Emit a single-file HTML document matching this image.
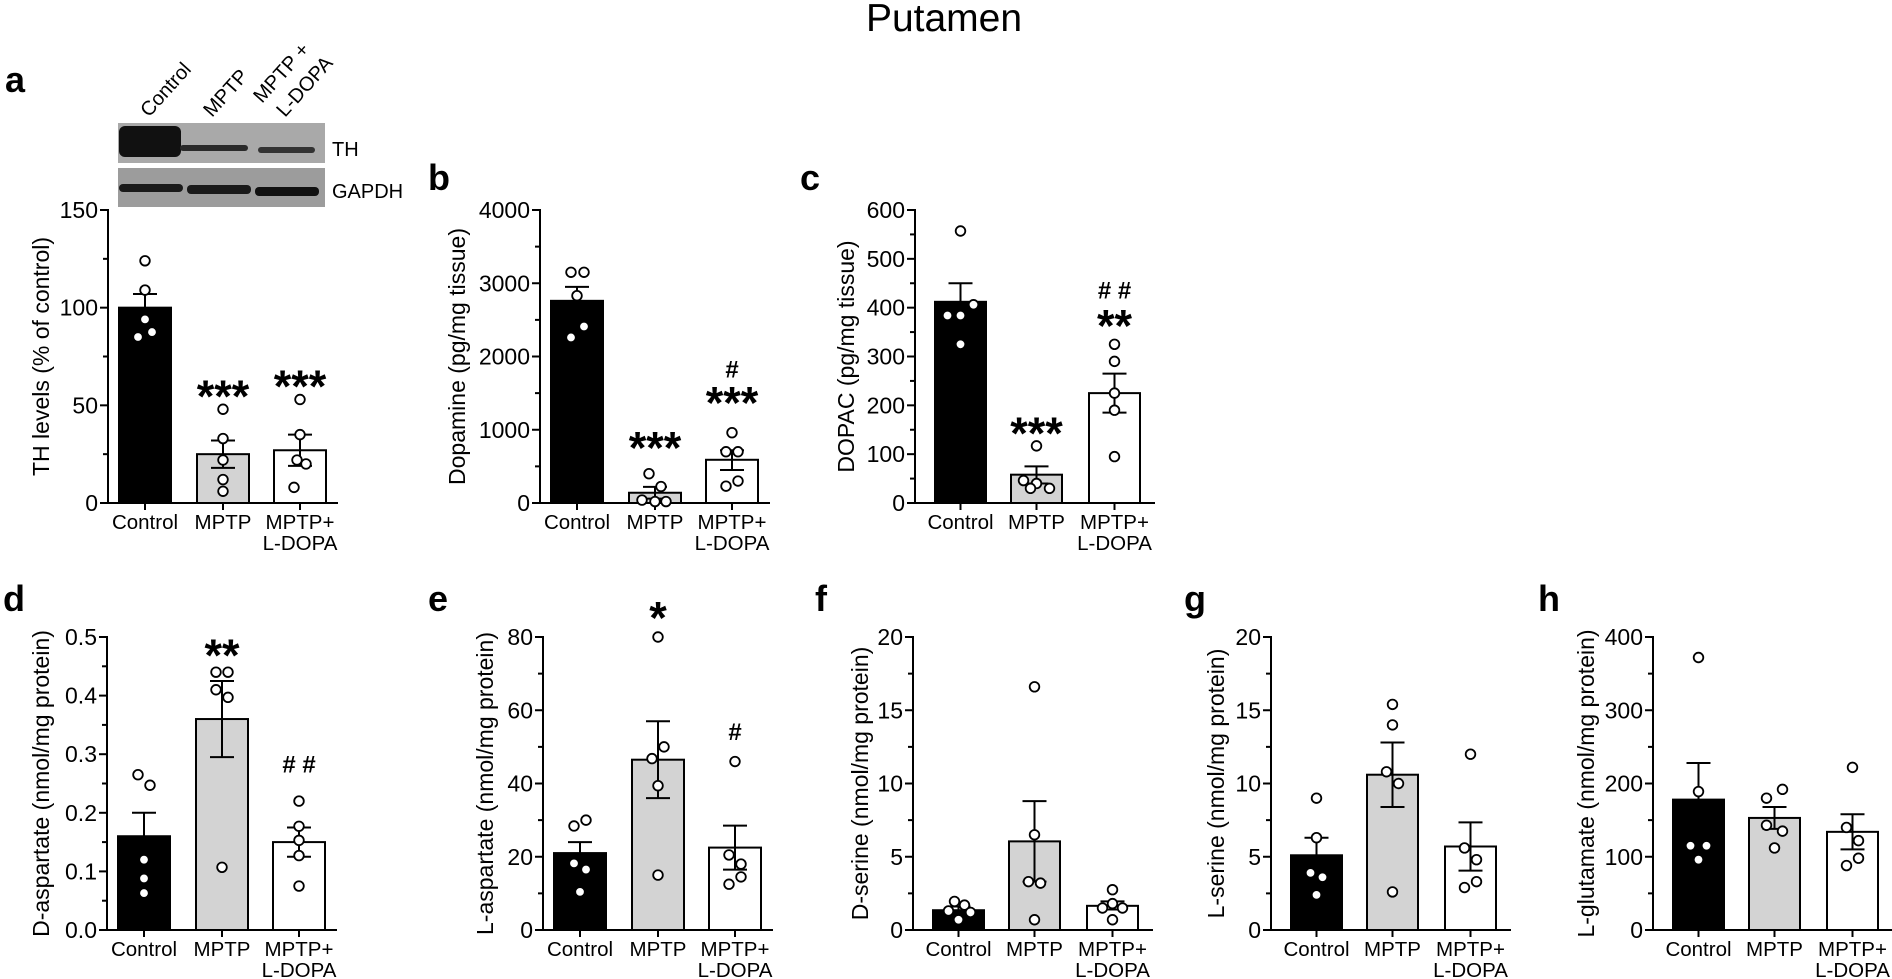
<!DOCTYPE html>
<html><head><meta charset="utf-8"><style>
html,body{margin:0;padding:0;background:#fff;}
svg{display:block;font-family:"Liberation Sans",Arial,sans-serif;}
</style></head><body>
<svg id="s" width="1892" height="979" viewBox="0 0 1892 979" xmlns="http://www.w3.org/2000/svg">
<rect width="1892" height="979" fill="#fff"/>
<text x="944" y="31" font-size="39" text-anchor="middle">Putamen</text>
<rect x="118" y="123" width="207" height="40" fill="#a9a9a9"/>
<rect x="118" y="168" width="207" height="39" fill="#9c9c9c"/>
<rect x="119" y="126" width="62" height="31" rx="6" fill="#111"/>
<rect x="180" y="145" width="68" height="6" rx="3" fill="#2a2a2a"/>
<rect x="258" y="147" width="57" height="6" rx="3" fill="#333"/>
<rect x="119" y="184" width="64" height="8" rx="4" fill="#1a1a1a"/>
<rect x="187" y="185" width="64" height="9" rx="4" fill="#1a1a1a"/>
<rect x="255" y="187" width="64" height="9" rx="4" fill="#111"/>
<text x="332" y="156" font-size="20">TH</text>
<text x="332" y="198" font-size="20">GAPDH</text>
<text transform="translate(149,118) rotate(-48)" font-size="20">Control</text>
<text transform="translate(212,118) rotate(-48)" font-size="20">MPTP</text>
<text transform="translate(262,104) rotate(-48)" font-size="20">MPTP +</text>
<text transform="translate(285,118) rotate(-48)" font-size="20">L-DOPA</text>
<g id="g"></g>
</svg>
<script>
var P=[
{L:'a',lx:5,ly:92,X:108,top:210,bot:503,max:150,maj:50,min:25,t:'A',lab:'TH levels (% of control)',yx:41,dec:0,
m:[100,25,27],e:[[100,107],[18,32],[19,35]],
p:[[[124,0],[109,0],[94,0],[87.5,7],[85,-7]],[[48,0],[33,0],[22,0],[12,0],[6,0]],[[53,0],[35,0],[22,-3],[20,6],[8,-6]]],
a:[[1,60,'***'],[2,65,'***']]},
{L:'b',lx:428,ly:190,X:540,top:210,bot:503,max:4000,maj:1000,min:500,t:'A',lab:'Dopamine (pg/mg tissue)',yx:457,dec:0,
m:[2760,140,590],e:[[2760,2950],[60,220],[450,720]],
p:[[[3150,-6],[3150,7],[2830,0],[2410,7],[2260,-6]],[[400,-6],[225,6],[40,-13],[20,0],[20,11]],[[960,0],[700,-6],[700,6],[300,6],[230,-6]]],
a:[[1,895,'***'],[2,1506,'***'],[2,1824,'#']]},
{L:'c',lx:800,ly:190,X:915,top:210,bot:503,max:600,maj:100,min:50,t:'B',lab:'DOPAC (pg/mg tissue)',yx:846,dec:0,
m:[412,58,225],e:[[412,450],[40,75],[185,265]],
p:[[[557,0],[406,13],[384,-13],[384,0],[325,0]],[[117,0],[46,-13],[40,0],[30,-6],[30,13]],[[325,0],[290,0],[225,0],[190,0],[95,0]]],
a:[[1,164,'***'],[2,384,'**'],[2,435,'##']]},
{L:'d',lx:3,ly:611,X:107,top:637,bot:930,max:0.5,maj:0.1,min:0.05,t:'A',lab:'D-aspartate (nmol/mg protein)',yx:41,dec:1,
m:[0.16,0.36,0.15],e:[[0.16,0.2],[0.295,0.425],[0.125,0.175]],
p:[[[0.265,-6],[0.247,6],[0.12,0],[0.088,0],[0.063,0]],[[0.44,-6],[0.44,6],[0.41,-6],[0.397,6],[0.107,0]],[[0.22,0],[0.177,0],[0.153,0],[0.127,0],[0.075,0]]],
a:[[1,0.486,'**'],[2,0.282,'##']]},
{L:'e',lx:428,ly:611,X:543,top:637,bot:930,max:80,maj:20,min:10,t:'A',lab:'L-aspartate (nmol/mg protein)',yx:485,dec:0,
m:[21,46.5,22.5],e:[[21,24],[36,57],[16.5,28.5]],
p:[[[28.4,-6],[30,6],[18.2,-6],[16.5,6],[10.4,0]],[[80,0],[46.8,-6],[50,6],[39.4,0],[15,0]],[[46,0],[20.5,-6],[18,6],[14.5,6],[12.5,-6]]],
a:[[1,88,'*'],[2,54,'#']]},
{L:'f',lx:815,ly:611,X:913,top:637,bot:930,max:20,maj:5,min:2.5,t:'B',lab:'D-serine (nmol/mg protein)',yx:860,dec:0,
m:[1.35,6.05,1.65],e:[[1.35,1.6],[3.3,8.8],[1.4,1.95]],
p:[[[1.95,-4],[1.7,6],[1.3,-10],[1.2,12],[0.7,0]],[[16.6,0],[6.5,0],[3.3,-6],[3.2,6],[0.7,0]],[[2.75,0],[1.8,0],[1.5,-10],[1.5,10],[0.7,0]]],
a:[]},
{L:'g',lx:1184,ly:611,X:1271,top:637,bot:930,max:20,maj:5,min:2.5,t:'B',lab:'L-serine (nmol/mg protein)',yx:1216,dec:0,
m:[5.1,10.6,5.7],e:[[5.1,6.3],[8.4,12.8],[4.05,7.35]],
p:[[[9,0],[6.3,0],[3.9,-6],[3.6,6],[2.4,0]],[[15.4,0],[14,0],[10.8,-6],[10,6],[2.6,0]],[[12,0],[5.6,-6],[4.8,6],[3.3,6],[2.9,-6]]],
a:[]},
{L:'h',lx:1538,ly:611,X:1653,top:637,bot:930,max:400,maj:100,min:50,t:'B',lab:'L-glutamate (nmol/mg protein)',yx:1586,dec:0,
m:[178,153,134],e:[[178,228],[138,168],[110,158]],
p:[[[372,0],[189,0],[115,-8],[115,8],[96,0]],[[192,8],[180,-8],[143,-8],[135,8],[112,0]],[[222,0],[140,-6],[122,6],[98,6],[88,-6]]],
a:[]}
];
var fills=['#000','#d3d3d3','#fff'];
var h='';
P.forEach(function(p){
 var Y=function(v){return p.bot-(v/p.max)*(p.bot-p.top);};
 var bx=p.t=='A'?[11,89,166]:[20,96,174], bw=p.t=='A'?52:51, end=p.t=='A'?230:240;
 h+='<text x="'+p.lx+'" y="'+p.ly+'" font-size="36" font-weight="bold">'+p.L+'</text>';
 for(var i=0;i<3;i++){
  var x=p.X+bx[i], y=Y(p.m[i]);
  h+='<rect x="'+x+'" y="'+y+'" width="'+bw+'" height="'+(p.bot-y)+'" fill="'+fills[i]+'" stroke="#000" stroke-width="2"/>';
 }
 h+='<line x1="'+p.X+'" y1="'+(p.top-1)+'" x2="'+p.X+'" y2="'+(p.bot+1)+'" stroke="#000" stroke-width="2"/>';
 h+='<line x1="'+(p.X-8)+'" y1="'+p.bot+'" x2="'+(p.X+end)+'" y2="'+p.bot+'" stroke="#000" stroke-width="2"/>';
 var n=Math.round(p.max/p.min);
 for(var k=0;k<=n;k++){
  var v=k*p.min, y=Y(v), major=(k%Math.round(p.maj/p.min)==0);
  h+='<line x1="'+(p.X-(major?8:5))+'" y1="'+y+'" x2="'+p.X+'" y2="'+y+'" stroke="#000" stroke-width="2"/>';
  if(major) h+='<text x="'+(p.X-10)+'" y="'+(y+8)+'" font-size="23" text-anchor="end">'+v.toFixed(p.dec)+'</text>';
 }
 var names=['Control','MPTP','MPTP+'];
 for(var i=0;i<3;i++){
  var cx=p.X+bx[i]+bw/2;
  h+='<line x1="'+cx+'" y1="'+p.bot+'" x2="'+cx+'" y2="'+(p.bot+7)+'" stroke="#000" stroke-width="2"/>';
  h+='<text x="'+cx+'" y="'+(p.bot+26)+'" font-size="20.5" text-anchor="middle">'+names[i]+'</text>';
  if(i==2) h+='<text x="'+cx+'" y="'+(p.bot+47)+'" font-size="20.5" text-anchor="middle">L-DOPA</text>';
  var y1=Y(p.e[i][0]), y2=Y(p.e[i][1]);
  h+='<line x1="'+cx+'" y1="'+y1+'" x2="'+cx+'" y2="'+y2+'" stroke="#000" stroke-width="2"/>';
  h+='<line x1="'+(cx-12)+'" y1="'+y2+'" x2="'+(cx+12)+'" y2="'+y2+'" stroke="#000" stroke-width="2"/>';
  if(i>0) h+='<line x1="'+(cx-12)+'" y1="'+y1+'" x2="'+(cx+12)+'" y2="'+y1+'" stroke="#000" stroke-width="2"/>';
  p.p[i].forEach(function(q){
   h+='<circle cx="'+(cx+q[1])+'" cy="'+Y(q[0])+'" r="4.8" fill="#fff" stroke="#000" stroke-width="1.8"/>';
  });
 }
 p.a.forEach(function(a){
  var cx=p.X+bx[a[0]]+bw/2, y=Y(a[1]);
  if(a[2].charAt(0)=='*') h+='<text x="'+cx+'" y="'+(y+26)+'" font-size="45" font-weight="bold" text-anchor="middle">'+a[2]+'</text>';
  else h+='<text x="'+cx+'" y="'+(y+8)+'" font-size="24" font-weight="bold" text-anchor="middle">'+(a[2]=='##'?'# #':'#')+'</text>';
 });
 var cy=(p.top+p.bot)/2;
 h+='<text transform="translate('+(p.yx+8)+','+cy+') rotate(-90)" font-size="23" text-anchor="middle">'+p.lab+'</text>';
});
document.getElementById('g').innerHTML=h;
</script>
</body></html>
